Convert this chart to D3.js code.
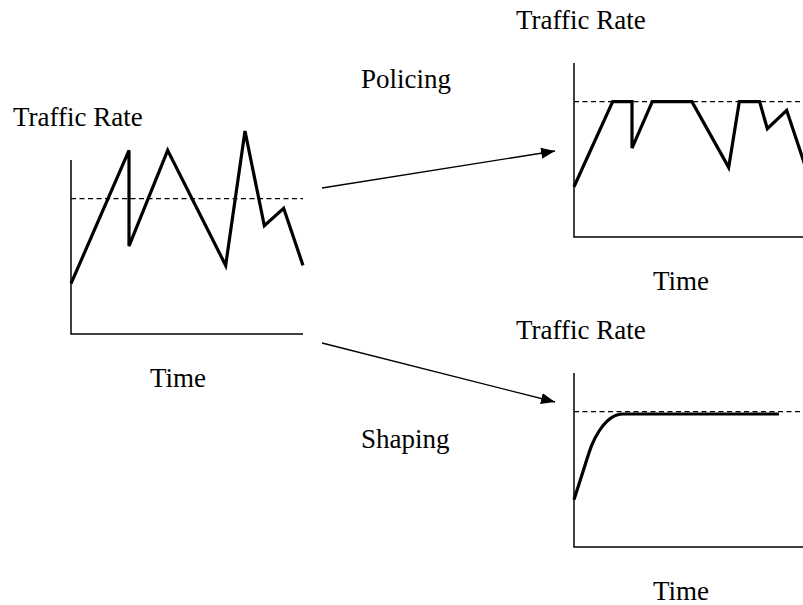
<!DOCTYPE html>
<html>
<head>
<meta charset="utf-8">
<script src="https://cdn.jsdelivr.net/npm/d3@7"></script>
<style>
  body { margin: 0; background: #fff; }
</style>
</head>
<body>
<svg id="chart" width="803" height="605"></svg>
<script>
// time (x) and rate (y) readings, in the same units for every panel
var threshold = 7;

var input_time = [0, 3, 3, 5, 8, 9, 10, 11, 12];
var input_rate = [2.6, 9.5, 4.55, 9.5, 3.55, 10.5, 5.6, 6.5, 3.55];

var policed_time = [0, 2, 3, 3, 4.05, 6.1, 8, 8.55, 9.6, 10, 11, 12];
var policed_rate = [2.6, 7, 7, 4.6, 7, 7, 3.6, 7, 7, 5.6, 6.55, 3.55];

var shaped_time = [0, 0.45, 0.93, 1.3, 1.7, 2.1, 2.5, 10.6];
var shaped_rate = [2.45, 3.85, 5.3, 6.0, 6.5, 6.78, 6.88, 6.88];

var panels = [
  { id: 'input',   left: 71,  top: 160, time: input_time,   rate: input_rate,   curve: d3.curveLinear },
  { id: 'policed', left: 574, top: 63,  time: policed_time, rate: policed_rate, curve: d3.curveLinear },
  { id: 'shaped',  left: 574, top: 373, time: shaped_time,  rate: shaped_rate,  curve: d3.curveMonotoneX }
];

var font = '"Liberation Serif", "Times New Roman", serif';

var svg = d3.select('#chart');

var width  = 232;
var height = 174;

var x = d3.scaleLinear().domain([0, 12]).range([0, width]);
var y = d3.scaleLinear().domain([0, 9]).range([height, 0]);

panels.forEach((p) => {
  var pts = p.time.map((t, i) => ({ t: t, r: p.rate[i] }));

  var g = svg.append('g')
    .attr('class', p.id)
    .attr('transform', `translate(${ p.left }, ${ p.top })`);

  // threshold
  g.append('line')
    .attr('x1', 0).attr('x2', width)
    .attr('y1', y(threshold)).attr('y2', y(threshold))
    .attr('stroke', '#000')
    .attr('stroke-width', 1.4)
    .attr('stroke-dasharray', '5,3.5');

  // L shaped axes
  g.append('path')
    .attr('d', `M0,0V${ height }H${ width }`)
    .attr('fill', 'none')
    .attr('stroke', '#000')
    .attr('stroke-width', 1.5);

  var line = d3.line()
    .x((d) => x(d.t))
    .y((d) => y(d.r))
    .curve(p.curve);

  g.append('path')
    .datum(pts)
    .attr('d', line)
    .attr('fill', 'none')
    .attr('stroke', '#000')
    .attr('stroke-width', 3.2)
    .attr('stroke-linejoin', 'miter');

  g.append('text')
    .attr('x', -58)
    .attr('y', -34)
    .style('font-family', font)
    .style('font-size', '27px')
    .text('Traffic Rate');

  g.append('text')
    .attr('x', width / 2 - 9)
    .attr('y', height + 53)
    .attr('text-anchor', 'middle')
    .style('font-family', font)
    .style('font-size', '27px')
    .text('Time');
});

// arrows between panels
svg.append('defs').append('marker')
  .attr('id', 'head')
  .attr('viewBox', '0 0 14 11')
  .attr('refX', 14).attr('refY', 5.5)
  .attr('markerWidth', 14).attr('markerHeight', 11)
  .attr('markerUnits', 'userSpaceOnUse')
  .attr('orient', 'auto')
  .append('path')
  .attr('d', 'M0,0L14,5.5L0,11Z')
  .attr('fill', '#000');

var arrows = [
  { from: [322, 188], to: [555, 151], label: 'Policing', lx: 361, ly: 88 },
  { from: [322, 343], to: [555, 402], label: 'Shaping',  lx: 361, ly: 448 }
];

arrows.forEach((a) => {
  svg.append('line')
    .attr('x1', a.from[0]).attr('y1', a.from[1])
    .attr('x2', a.to[0]).attr('y2', a.to[1])
    .attr('stroke', '#000')
    .attr('stroke-width', 1.4)
    .attr('marker-end', 'url(#head)');

  svg.append('text')
    .attr('x', a.lx)
    .attr('y', a.ly)
    .style('font-family', font)
    .style('font-size', '27px')
    .text(a.label);
});
</script>
</body>
</html>
